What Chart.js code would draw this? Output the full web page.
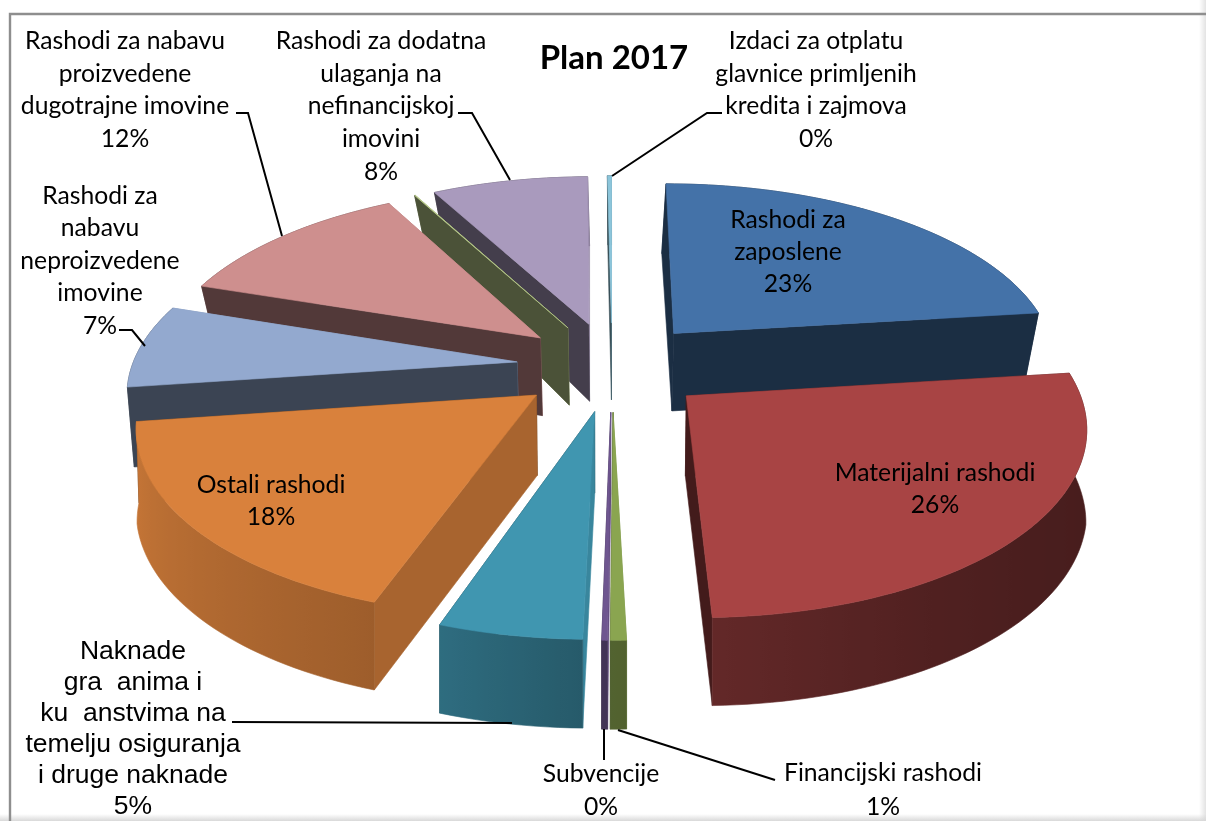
<!DOCTYPE html>
<html>
<head>
<meta charset="utf-8">
<title>Plan 2017</title>
<script src="https://cdn.jsdelivr.net/npm/chart.js@4"></script>
<style>
html,body{margin:0;padding:0;background:#fff;overflow:hidden}
canvas{display:block}
</style>
</head>
<body>
<canvas id="pie" width="1206" height="821"></canvas>
<script>
const TITLE = 'Plan 2017';
const CATEGORIES = [
  'Rashodi za zaposlene',
  'Materijalni rashodi',
  'Financijski rashodi',
  'Subvencije',
  'Naknade gra  anima i ku  anstvima na temelju osiguranja i druge naknade',
  'Ostali rashodi',
  'Rashodi za nabavu neproizvedene imovine',
  'Rashodi za nabavu proizvedene dugotrajne imovine',
  'Pomoći',
  'Rashodi za dodatna ulaganja na nefinancijskoj imovini',
  'Izdaci za otplatu glavnice primljenih kredita i zajmova'
];
// the printed % are rounded
const VALUES = [23.05, 26.5, 0.55, 0.2, 5, 17.5, 7.3, 12, 0.04, 7.66, 0.2];
const COLORS = ['#4472A8','#A84444','#8AA550','#6F5690','#4096B0','#D9813C','#93A9CF','#CE8F8E','#BBCC8D','#A99ABD','#8CC5DA'];

const LABEL_TEXT = [
  ['Rashodi za','zaposlene','23%'],
  ['Materijalni rashodi','26%'],
  ['Financijski rashodi','1%'],
  ['Subvencije','0%'],
  ['Naknade','gra  anima i','ku  anstvima na','temelju osiguranja','i druge naknade','5%'],
  ['Ostali rashodi','18%'],
  ['Rashodi za','nabavu','neproizvedene','imovine','7%'],
  ['Rashodi za nabavu','proizvedene','dugotrajne imovine','12%'],
  [],
  ['Rashodi za dodatna','ulaganja na','nefinancijskoj','imovini','8%'],
  ['Izdaci za otplatu','glavnice primljenih','kredita i zajmova','0%']
];
// label placement: centre x, first line middle y, line step
const LABEL_POS = [
  [788,220,32],[935,473,32],[883,773,34],[601,774,33],[133,652,31],[271,485,32],
  [100,196,32.5],[125,41,32.7],null,[381,41,32.7],[816,41,32.7]
];
const LEADERS = [
  [[722,113],[707,113],[612,176]],
  [[458,113],[472,113],[510,180]],
  [[236,113],[248,113],[282,236]],
  [[119,330],[132,330],[145,346]],
  [[232,722],[512,723]],
  [[604,729],[604,760]],
  [[618,730],[775,780]]
];

// camera for the tilted pie
const VIEW = {cx:612, cy:366, rx:385, ry:180, persp:0.145, depth:79};
// rim darkness against clock angle of the wall
const RIM_SHADE = [[90,0.58],[130,0.56],[150,0.52],[181,0.4],[200,0.27],[260,0.08]];

function project(u, v, z){
  const f = 1/(1 - VIEW.persp*v);
  const narrow = z ? Math.min(1, 0.98 + 0.05*v) : 1;
  return {
    x: VIEW.cx + VIEW.rx*u*f*narrow,
    y: VIEW.cy + VIEW.ry*v*f + z*VIEW.depth*(1 + 0.1*v)
  };
}

function shade(hex, k){
  const n = parseInt(hex.slice(1),16);
  const m = c => Math.round(c*(1-k));
  return `rgb(${m(n>>16&255)},${m(n>>8&255)},${m(n&255)})`;
}

function fillPoly(ctx, pts, paint){
  ctx.beginPath();
  pts.forEach((p,i)=>{ if(i===0) ctx.moveTo(p.x,p.y); else ctx.lineTo(p.x,p.y); });
  ctx.closePath();
  ctx.fillStyle = paint;
  ctx.strokeStyle = paint;
  ctx.lineWidth = 0.6;
  ctx.fill();
  ctx.stroke();
}

function rimShade(deg){
  if(deg > 262 || deg < 90) return 0.6;
  for(let i=1;i<RIM_SHADE.length;i++){
    const a = RIM_SHADE[i-1], b = RIM_SHADE[i];
    if(deg <= b[0]) return a[1] + (b[1]-a[1])*(deg-a[0])/(b[0]-a[0]);
  }
  return 0.08;
}
function cutShade(deg){
  return Math.max(0.1, Math.min(0.6, 0.1 + (deg-90)*0.0065));
}

function clockDeg(a){
  let d = (a + Math.PI/2)*180/Math.PI;
  while(d < 0) d += 360;
  while(d >= 360) d -= 360;
  return d;
}

function cutFace(apex, p, color, k){
  return {
    depth:(apex.v+p.v)/2,
    paint:shade(color,k),
    pts:[project(apex.u,apex.v,0),project(p.u,p.v,0),project(p.u,p.v,1),project(apex.u,apex.v,1)]
  };
}

function rimFace(ctx, rim, color){
  const topEdge = rim.map(p=>project(p.u,p.v,0));
  const lowEdge = rim.map(p=>project(p.u,p.v,1)).reverse();
  const xs = topEdge.map(p=>p.x);
  const minX = Math.min(...xs), maxX = Math.max(...xs);
  const meanV = rim.reduce((s,q)=>s+q.v,0)/rim.length;
  const g = ctx.createLinearGradient(minX,0,Math.max(maxX,minX+1),0);
  rim.forEach((p,i)=>{
    if(p.v < meanV - 0.4) return;
    g.addColorStop((xs[i]-minX)/Math.max(maxX-minX,1), shade(color, rimShade(clockDeg(p.a))));
  });
  return {depth:meanV, paint:g, pts:topEdge.concat(lowEdge)};
}

function drawSlice(ctx, arc){
  const mid = (arc.startAngle + arc.endAngle)/2;
  const e = arc.options.offset/arc.outerRadius;
  const u0 = e*Math.cos(mid), v0 = e*Math.sin(mid);
  const color = arc.options.backgroundColor;
  const n = Math.max(2, Math.ceil((arc.endAngle-arc.startAngle)*180/Math.PI/1.5));
  const rim = [];
  for(let i=0;i<=n;i++){
    const a = arc.startAngle + (arc.endAngle-arc.startAngle)*i/n;
    rim.push({a, u:u0+Math.cos(a), v:v0+Math.sin(a)});
  }
  const apex = {u:u0, v:v0};
  const faces = [
    cutFace(apex, rim[0], color, cutShade((clockDeg(arc.startAngle)+270)%360)),
    cutFace(apex, rim[n], color, cutShade((clockDeg(arc.endAngle)+90)%360)),
    rimFace(ctx, rim, color)
  ];
  faces.sort((a,b)=>a.depth-b.depth);
  faces.forEach(f=>fillPoly(ctx, f.pts, f.paint));
  const top = [project(apex.u,apex.v,0)].concat(rim.map(p=>project(p.u,p.v,0)));
  fillPoly(ctx, top, color);
}

const tiltedPie = {
  id:'tiltedPie',
  beforeDatasetsDraw(chart){
    const ctx = chart.ctx;
    const arcs = chart.getDatasetMeta(0).data.slice();
    const apexV = a => Math.sin((a.startAngle+a.endAngle)/2);
    arcs.sort((a,b)=>apexV(a)-apexV(b));
    ctx.save();
    arcs.forEach(a=>drawSlice(ctx,a));
    ctx.restore();
    return false;
  }
};

const labelsAndFrame = {
  id:'labelsAndFrame',
  beforeDraw(chart){
    const ctx = chart.ctx, W = chart.width, H = chart.height;
    ctx.save();
    ctx.fillStyle = '#fff';
    ctx.fillRect(0,0,W,H);
    let g = ctx.createLinearGradient(0,H-7,0,H);
    g.addColorStop(0,'rgba(200,200,200,0)');
    g.addColorStop(1,'rgba(200,200,200,0.7)');
    ctx.fillStyle = g;
    ctx.fillRect(0,H-7,W,7);
    g = ctx.createLinearGradient(W-7,0,W,0);
    g.addColorStop(0,'rgba(215,215,215,0)');
    g.addColorStop(1,'rgba(215,215,215,0.7)');
    ctx.fillStyle = g;
    ctx.fillRect(W-7,0,7,H);
    ctx.strokeStyle = '#8e8e8e';
    ctx.lineWidth = 2.4;
    ctx.beginPath();
    ctx.moveTo(10,H);
    ctx.lineTo(10,14);
    ctx.lineTo(W,14);
    ctx.stroke();
    ctx.restore();
  },
  afterDraw(chart){
    const ctx = chart.ctx;
    ctx.save();
    ctx.strokeStyle = '#000';
    ctx.lineWidth = 2;
    LEADERS.forEach(line=>{
      ctx.beginPath();
      line.forEach((p,i)=>{ if(i===0) ctx.moveTo(p[0],p[1]); else ctx.lineTo(p[0],p[1]); });
      ctx.stroke();
    });
    ctx.fillStyle = '#000';
    ctx.textAlign = 'center';
    ctx.textBaseline = 'middle';
    LABEL_TEXT.forEach((lines,i)=>{
      const pos = LABEL_POS[i];
      if(!pos) return;
      ctx.font = i===4 ? '26.5px "Liberation Sans"' : '24.7px Lato';
      lines.forEach((t,j)=>ctx.fillText(t, pos[0], pos[1]+j*pos[2]));
    });
    ctx.restore();
  }
};

new Chart(document.getElementById('pie'), {
  type:'pie',
  data:{
    labels:CATEGORIES,
    datasets:[{data:VALUES, backgroundColor:COLORS, offset:82, borderWidth:0}]
  },
  options:{
    responsive:false,
    animation:false,
    layout:{padding:{left:22}},
    plugins:{
      legend:{display:false},
      tooltip:{enabled:false},
      title:{
        display:true,
        text:TITLE,
        fullSize:false,
        color:'#000',
        font:{family:'Lato',size:33,weight:'bold'},
        padding:{top:39,bottom:0}
      }
    }
  },
  plugins:[labelsAndFrame, tiltedPie]
});
</script>
</body>
</html>
